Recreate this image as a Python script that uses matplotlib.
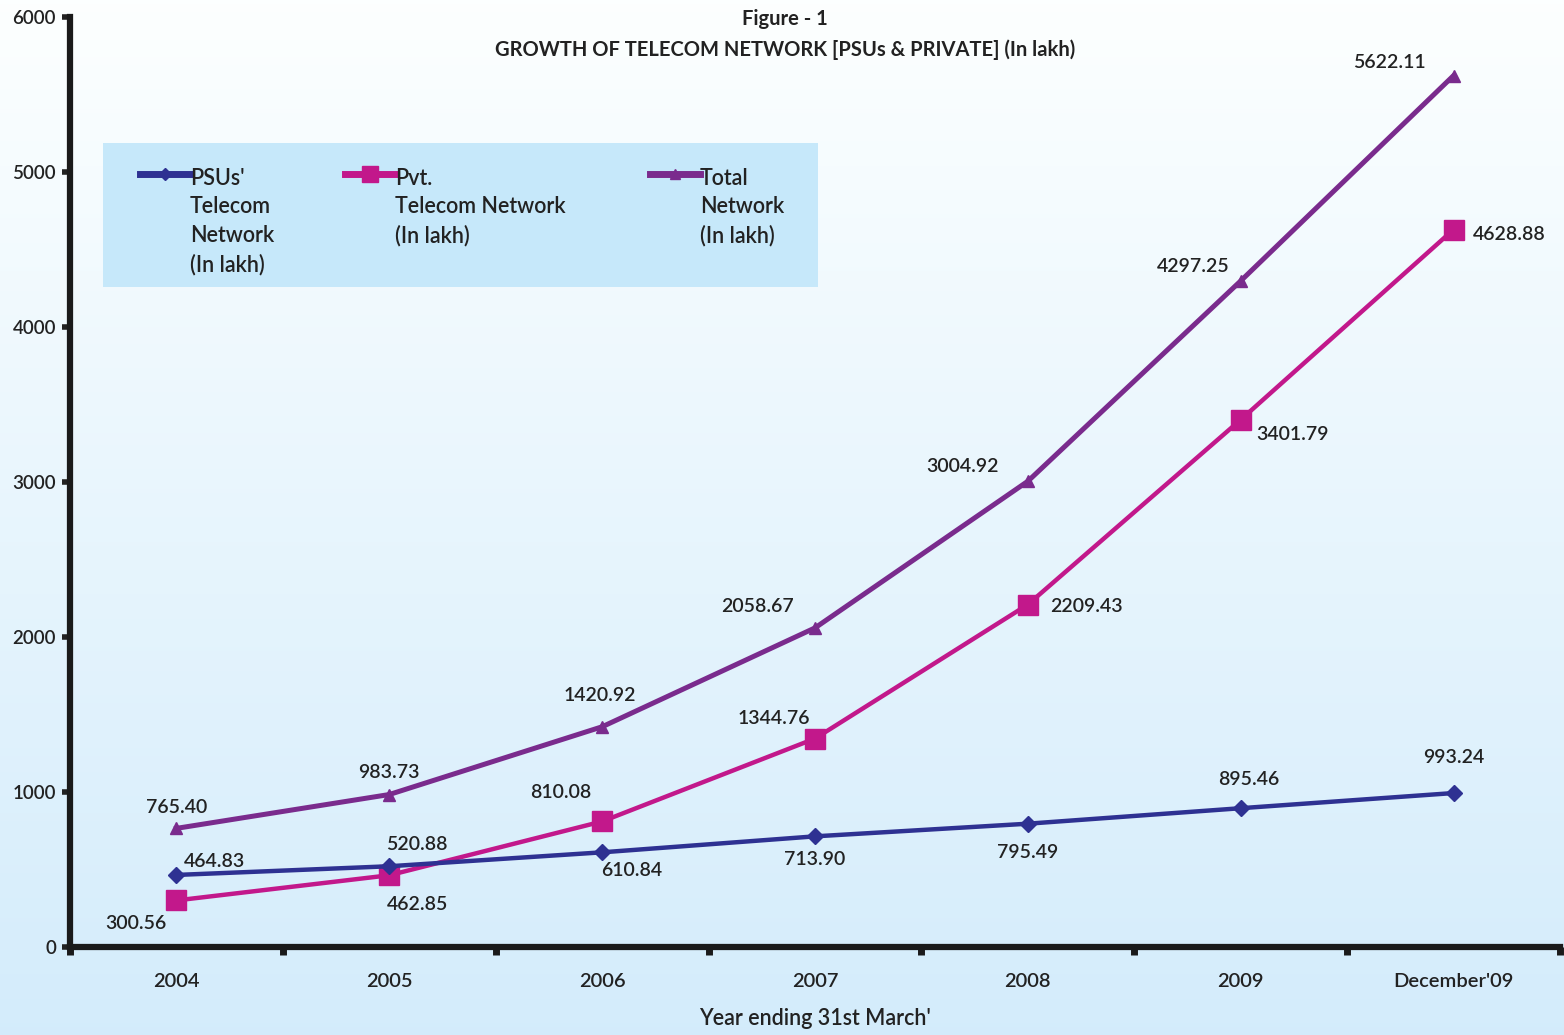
import numpy as np
import matplotlib
matplotlib.use("Agg")
import matplotlib.pyplot as plt
from matplotlib.patches import Rectangle
from matplotlib.lines import Line2D

plt.rcParams['font.family'] = ['Lato', 'DejaVu Sans']

years = ['2004', '2005', '2006', '2007', '2008', '2009', "December'09"]
psu = [464.83, 520.88, 610.84, 713.90, 795.49, 895.46, 993.24]
pvt = [300.56, 462.85, 810.08, 1344.76, 2209.43, 3401.79, 4628.88]
total = [765.40, 983.73, 1420.92, 2058.67, 3004.92, 4297.25, 5622.11]

psu_name = "PSUs'\nTelecom\nNetwork\n(In lakh)"
pvt_name = "Pvt.\nTelecom Network\n(In lakh)"
total_name = "Total\nNetwork\n(In lakh)"

c_psu = '#2e3192'
c_pvt = '#c2188b'
c_total = '#7a2b8d'

# label offsets in pixels (dx, dy)
off_total = [(0, 21), (0, 22), (-2, 31), (-57, 21), (-65, 15), (-47, 14), (-64, 13)]
off_pvt = [(-41, -23), (28, -29), (-41, 29), (-41, 20), (59, -2), (52, -15), (56, -5)]
off_psu = [(38, 13), (28, 22), (30, -18), (0, -23), (0, -29), (8, 29), (0, 36)]

W, H = 1564, 1035
fig = plt.figure(figsize=(W / 100, H / 100), dpi=100)

# background gradient
bg = fig.add_axes([0, 0, 1, 1], zorder=-5)
grad = np.linspace(0, 1, 256).reshape(-1, 1)
top = np.array([0.99, 1.0, 1.0])
bot = np.array([0.83, 0.925, 0.985])
img = top + (bot - top) * grad[:, :, None]
bg.imshow(img, aspect='auto', extent=[0, 1, 0, 1], origin='upper')
bg.axis('off')

ax = fig.add_axes([70 / W, 1 - 947 / H, 1490 / W, 930 / H])
ax.set_facecolor('none')
x = np.arange(len(years))

ax.plot(x, total, color=c_total, lw=3.6, marker='^', ms=9, zorder=3)
ax.plot(x, pvt, color=c_pvt, lw=3.2, marker='s', ms=15, zorder=4)
ax.plot(x, psu, color=c_psu, lw=3.2, marker='D', ms=8, zorder=5)

lab_kw = dict(textcoords='offset pixels', ha='center', va='center', fontsize=14,
              fontweight='semibold', color='#222222')
for vals, offs in [(total, off_total), (pvt, off_pvt), (psu, off_psu)]:
    for xi, v, o in zip(x, vals, offs):
        ax.annotate(f'{v:.2f}', (xi, v), xytext=o, **lab_kw)

ax.set_xlim(-0.5, 6.5)
ax.set_ylim(0, 6000)
ax.set_yticks(range(0, 6001, 1000))
ax.tick_params(axis='y', length=6, width=4, labelsize=13.5, pad=4, colors='#222222')
for t in ax.get_yticklabels():
    t.set_fontweight('semibold')
ax.set_xticks(x)
ax.set_xticklabels(years, fontweight='semibold')
ax.tick_params(axis='x', which='major', length=0, pad=19, labelsize=14.5, colors='#222222')
ax.set_xticks(np.arange(-0.5, 7, 1), minor=True)
ax.tick_params(axis='x', which='minor', length=6, width=5, color='#1a1a1a')
for s in ['top', 'right']:
    ax.spines[s].set_visible(False)
for s in ['left', 'bottom']:
    ax.spines[s].set_linewidth(4.5)
    ax.spines[s].set_color('#1a1a1a')
ax.set_xlabel("Year ending 31st March'", fontsize=15.5, fontweight='semibold', labelpad=13, color='#222222')

# title
fig.text(785 / W, 1 - 19 / H, 'Figure - 1', ha='center', va='center', fontsize=14.5, fontweight='bold', color='#222222')
fig.text(785 / W, 1 - 50 / H, 'GROWTH OF TELECOM NETWORK [PSUs & PRIVATE] (In lakh)', ha='center', va='center',
         fontsize=14.5, fontweight='bold', color='#222222')

# legend box
fig.patches.append(Rectangle((103 / W, 1 - 287 / H), 715 / W, 144 / H, transform=fig.transFigure,
                             facecolor='#c6e8fa', edgecolor='none', zorder=1))
entries = [(140, c_psu, 'D', 6, psu_name), (345, c_pvt, 's', 11, pvt_name), (650, c_total, '^', 7, total_name)]
for hx, col, mk, ms, name in entries:
    fig.lines.append(Line2D([hx / W, (hx + 50) / W], [1 - 174 / H] * 2, transform=fig.transFigure,
                            color=col, lw=5, zorder=2))
    fig.lines.append(Line2D([(hx + 25) / W], [1 - 174 / H], transform=fig.transFigure,
                            color=col, marker=mk, ms=ms, zorder=2))
    fig.text((hx + 50) / W, 1 - 168 / H, name, ha='left', va='top', fontsize=15.5, linespacing=1.44,
             fontweight='semibold', color='#222222', zorder=3)

fig.savefig('out.png', dpi=100)
